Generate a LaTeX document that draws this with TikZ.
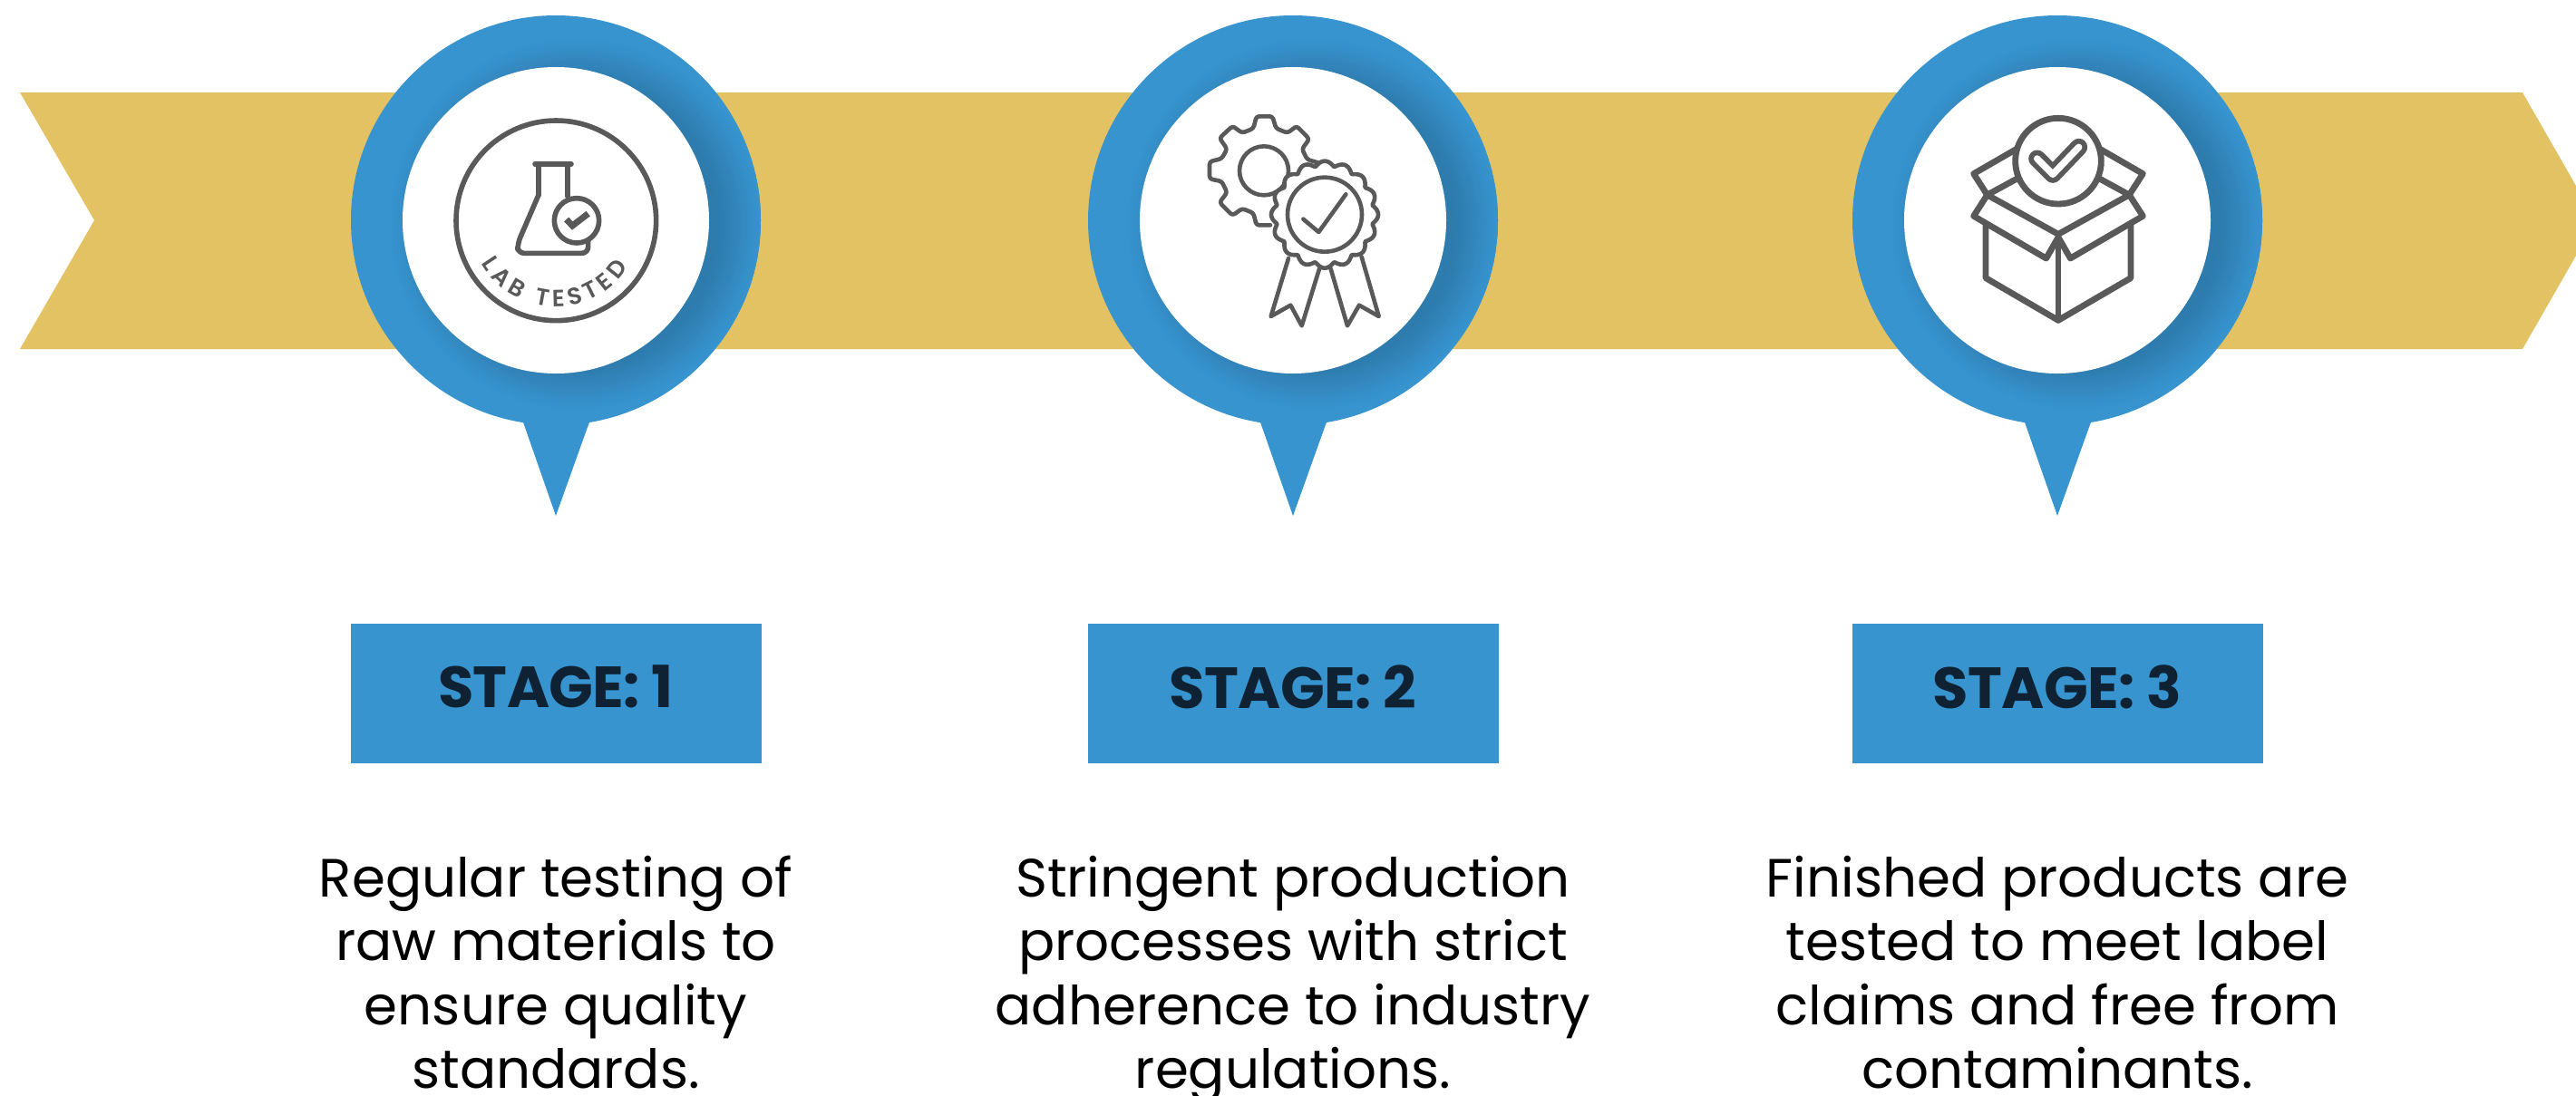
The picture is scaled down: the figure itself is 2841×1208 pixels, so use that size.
\documentclass[tikz,border=0pt]{standalone}
\usepackage{fontspec}
\setmainfont{Poppins}
\newfontfamily\badgeFont{Poppins SemiBold}
\newfontfamily\stageFont[LetterSpace=-1]{Poppins Bold}
\usetikzlibrary{positioning}
\usetikzlibrary{decorations.text}
\definecolor{bannerColor}{RGB}{226,194,99}
\definecolor{pinColor}{RGB}{55,148,207}
\definecolor{shadowColor}{RGB}{46,122,172}
\definecolor{iconColor}{RGB}{89,89,89}
\definecolor{stageColor}{RGB}{14,34,51}
\tikzstyle{tableau} = [x = 1pt, y = -1pt, every node/.style={inner sep = 0pt}]
\tikzstyle{stageBox} = [fill=pinColor, minimum width = 453pt, minimum height = 154pt, text depth = 15pt, text=stageColor, font=\fontsize{64}{76}\stageFont]
\tikzstyle{stageText} = [align=center, text=black, font=\fontsize{59.5}{70.3}\selectfont]
\tikzstyle{iconLine} = [color=iconColor, line width = 4.6pt, line join=round, line cap=round]
\tikzstyle{iconThick} = [color=iconColor, line width = 5.6pt, line join=round, line cap=round]
\tikzstyle{iconBox} = [color=iconColor, line width = 6.8pt, line join=round, line cap=round]
\newcommand{\stagePin}[1]{
  \fill [pinColor] (#1 - 38, 460) -- (#1, 569) -- (#1 + 39, 460) -- cycle;
  \fill [pinColor] (#1, 243) circle (226);
  \begin{scope}
    \clip (#1, 243) circle (226);
    \foreach \shadowStep in {0,...,24} {
      \pgfmathsetmacro{\shadowMix}{4 * \shadowStep}
      \pgfmathsetmacro{\shadowRadius}{206 - 2 * \shadowStep}
      \fill [shadowColor!\shadowMix!pinColor] (#1 + 22, 247) circle (\shadowRadius);
    }
  \end{scope}
  \fill [white] (#1, 243) circle (169);
}
\newcommand{\labTestedIcon}{
  \begin{scope}[shift={(490,120)}, scale=1/3]
    \draw [iconThick] (370,370) circle (331);
    \draw [iconThick] (300,183) -- (420,183);
    \draw [iconThick] (312,190) -- (312,285);
    \draw [iconThick, rounded corners = 7pt] (312,285) -- (243,445) -- (243,478) -- (476,478) -- (476,440);
    \draw [iconThick] (408,190) -- (408,290);
    \draw [iconThick, fill=white] (438,370) circle (74);
    \draw [iconColor, line width = 7pt, line join=miter] (404,366) -- (424,387) -- (476,347);
    \path [decorate, decoration={text along path, text align={fit to path}, text={|\fontsize{26}{26}\badgeFont\color{iconColor}|LAB TESTED}}]
      (370,370) ++(150:285) arc [start angle=150, end angle=33, radius=285];
  \end{scope}
}
\newcommand{\gearAwardIcon}{
  \begin{scope}[shift={(1320,115)}, scale=1/3]
    \draw [iconLine, rounded corners = 3pt] (243,400) -- (197,400) -- (187,360) -- (150,345) -- (118,368) -- (75,325) -- (100,292) -- (82,255) -- (42,247) -- (42,190) -- (82,180) -- (100,148) -- (75,112) -- (118,72) -- (150,95) -- (187,80) -- (197,40) -- (250,40) -- (262,80) -- (300,95) -- (330,72) -- (372,115) -- (348,148) -- (365,183) -- (400,193);
    \draw [iconLine] (222,220) circle (81);
    \draw [iconLine] (303,510) -- (245,702) -- (310,665) -- (347,733) -- (405,545);
    \draw [iconLine] (443,545) -- (498,733) -- (537,665) -- (602,702) -- (545,505);
    \draw [iconLine, fill=white] plot [domain=0:360, samples=241] ({423 + (160 + 17 * abs(cos(8 * \x))) * cos(\x)}, {365 + (160 + 17 * abs(cos(8 * \x))) * sin(\x)}) -- cycle;
    \draw [iconLine] (423,365) circle (123);
    \draw [iconLine] (352,380) -- (403,423) -- (493,298);
  \end{scope}
}
\newcommand{\boxCheckIcon}{
  \begin{scope}[shift={(2150,115)}, scale=1/3]
    \draw [iconBox] (120,395) -- (120,575) -- (360,715) -- (600,575) -- (600,395);
    \draw [iconBox] (360,440) -- (360,715);
    \draw [iconBox] (125,300) -- (360,430) -- (595,300);
    \draw [iconBox] (125,300) -- (80,370) -- (320,510) -- (360,440) -- (400,510) -- (640,370) -- (595,300);
    \draw [iconBox] (125,300) -- (80,230) -- (222,148);
    \draw [iconBox] (595,300) -- (640,230) -- (498,148);
    \draw [iconBox] (125,300) -- (222,247);
    \draw [iconBox] (595,300) -- (498,247);
    \draw [iconBox, fill=white] (360,188) circle (142);
    \draw [iconColor, line width = 19pt, line join=round, line cap=round] (290,180) -- (342,232) -- (428,142);
    \draw [white, line width = 7.5pt, line join=round, line cap=round] (290,180) -- (342,232) -- (428,142);
  \end{scope}
}

\begin{document}
\begin{tikzpicture}[tableau]
  \useasboundingbox (0,0) rectangle (2841,1208);
  \clip (0,0) rectangle (2841,1208);
  \fill [bannerColor] (22,102) -- (2782,102) -- (2841,205) -- (2841,282) -- (2782,385) -- (22,385) -- (104,243) -- cycle;
  \foreach \pinX in {613,1426,2269} {
    \stagePin{\pinX}
  }
  \labTestedIcon
  \gearAwardIcon
  \boxCheckIcon

  \node (stageBoxOne) [stageBox] at (613,765) {STAGE: 1};
  \node (stageBoxTwo) [stageBox] at (1426,765) {STAGE: 2};
  \node (stageBoxThree) [stageBox] at (2269,765) {STAGE: 3};

  \node (stageTextOne) [stageText, below = 179pt of stageBoxOne.center] {Regular testing of\\raw materials to\\ensure quality\\standards.};
  \node (stageTextTwo) [stageText, below = 179pt of stageBoxTwo.center] {Stringent production\\processes with strict\\adherence to industry\\regulations.};
  \node (stageTextThree) [stageText, below = 179pt of stageBoxThree.center] {Finished products are\\tested to meet label\\claims and free from\\contaminants.};
\end{tikzpicture}
\end{document}
